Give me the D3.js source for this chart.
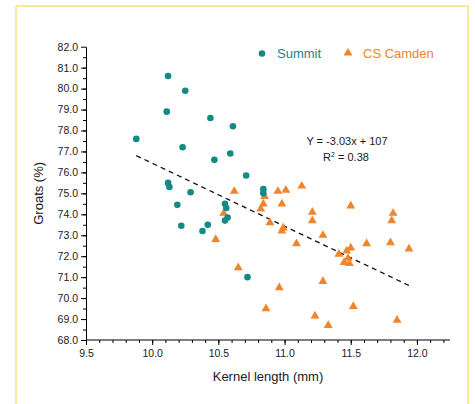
<!DOCTYPE html>
<html>
<head>
<meta charset="utf-8">
<script src="https://cdn.jsdelivr.net/npm/d3@7"></script>
<style>
  html, body { margin: 0; padding: 0; background: #fff; }
  svg { display: block; font-family: "Liberation Sans", Arial, sans-serif; }
</style>
</head>
<body>
<svg id="chart" width="475" height="404"></svg>
<script>
// Summit kernel length (mm) / groats (%)
const summitX = [9.88, 10.12, 10.11, 10.25, 10.23, 10.12, 10.13, 10.29, 10.19, 10.22, 10.38, 10.42,
  10.44, 10.47, 10.59, 10.61, 10.71, 10.55, 10.56, 10.55, 10.57, 10.72, 10.84, 10.84];
const summitY = [77.6, 80.6, 78.9, 79.9, 77.2, 75.5, 75.3, 75.05, 74.45, 73.45, 73.2, 73.5,
  78.6, 76.6, 76.9, 78.2, 75.85, 74.5, 74.3, 73.7, 73.85, 71.0, 75.2, 75.0];

// CS Camden
const camdenX = [10.62, 10.95, 11.01, 11.13, 10.85, 10.84, 10.98, 10.82, 10.54, 11.21, 11.21, 10.89,
  10.98, 10.99, 11.29, 10.48, 11.09, 11.41, 10.65, 11.29, 10.96, 10.86, 11.23, 11.33,
  11.50, 11.82, 11.81, 11.62, 11.80, 11.94, 11.50, 11.47, 11.45, 11.49, 11.48, 11.52, 11.85];
const camdenY = [75.1, 75.1, 75.15, 75.35, 74.85, 74.5, 74.5, 74.25, 74.05, 74.1, 73.7, 73.6,
  73.2, 73.35, 73.0, 72.8, 72.6, 72.1, 71.45, 70.8, 70.5, 69.5, 69.15, 68.7,
  74.4, 74.05, 73.7, 72.6, 72.65, 72.35, 72.4, 72.25, 71.7, 71.65, 71.9, 69.6, 68.95];

// regression line end points as drawn
const fitX = [9.88, 11.94];
const fitY = [76.8, 70.6];

const xTicks = [9.5, 10.0, 10.5, 11.0, 11.5, 12.0];
const yTicks = [68, 69, 70, 71, 72, 73, 74, 75, 76, 77, 78, 79, 80, 81, 82];

const teal = "#138a85";
const orange = "#f0852b";

const svg = d3.select("#chart");

// yellow frame
svg.append("rect")
  .attr("x", 16).attr("y", 6)
  .attr("width", 452).attr("height", 420)
  .attr("fill", "none")
  .attr("stroke", "#f6e37e")
  .attr("stroke-width", 1.5);

const x = d3.scaleLinear().domain([9.5, 12.25]).range([86, 450]);
const y = d3.scaleLinear().domain([68, 82]).range([340, 46.7]);

// x axis: major ticks every 0.5, minor every 0.1
const xMinor = d3.range(95, 123).map(d => d / 10);
svg.append("g")
  .attr("transform", "translate(0,340)")
  .call(d3.axisBottom(x).tickValues(xMinor).tickSize(3).tickFormat(""))
  .call(g => g.select(".domain").remove());
const xAxis = svg.append("g")
  .attr("transform", "translate(0,340)")
  .call(d3.axisBottom(x).tickValues(xTicks).tickSize(5).tickSizeOuter(0).tickFormat(d3.format(".1f")));
xAxis.select(".domain").attr("d", `M${x(9.5)},0H${x(12.25)}`);
xAxis.selectAll("text").attr("font-size", 10.5).attr("fill", "#1a1a1a").attr("y", 10);

// y axis: major every 1, minor every 0.5
const yMinor = d3.range(136, 164).map(d => d / 2);
svg.append("g")
  .attr("transform", "translate(86,0)")
  .call(d3.axisLeft(y).tickValues(yMinor).tickSize(3).tickFormat(""))
  .call(g => g.select(".domain").remove());
const yAxis = svg.append("g")
  .attr("transform", "translate(86,0)")
  .call(d3.axisLeft(y).tickValues(yTicks).tickSize(5).tickSizeOuter(0).tickFormat(d3.format(".1f")));
yAxis.selectAll("text").attr("font-size", 10.5).attr("fill", "#1a1a1a").attr("x", -8);

svg.append("text")
  .attr("x", x(10.875)).attr("y", 381)
  .attr("text-anchor", "middle")
  .attr("font-size", 13).attr("fill", "#1a1a1a")
  .text("Kernel length (mm)");

svg.append("text")
  .attr("transform", `translate(43,${y(75)}) rotate(-90)`)
  .attr("text-anchor", "middle")
  .attr("font-size", 13).attr("fill", "#1a1a1a")
  .text("Groats (%)");

// regression line
svg.append("line")
  .attr("x1", x(fitX[0])).attr("y1", y(fitY[0]))
  .attr("x2", x(fitX[1])).attr("y2", y(fitY[1]))
  .attr("stroke", "#111")
  .attr("stroke-width", 1.3)
  .attr("stroke-dasharray", "5,4");

// points
const tri = d3.symbol().type(d3.symbolTriangle).size(34);
svg.append("g").selectAll("path")
  .data(camdenX.map((v, i) => [v, camdenY[i]]))
  .join("path")
  .attr("d", tri)
  .attr("transform", d => `translate(${x(d[0])},${y(d[1])})`)
  .attr("fill", orange);

svg.append("g").selectAll("circle")
  .data(summitX.map((v, i) => [v, summitY[i]]))
  .join("circle")
  .attr("cx", d => x(d[0]))
  .attr("cy", d => y(d[1]))
  .attr("r", 3.3)
  .attr("fill", teal);

// equation
svg.append("text")
  .attr("x", 347).attr("y", 145)
  .attr("text-anchor", "middle")
  .attr("font-size", 11).attr("fill", "#1a1a1a")
  .text("Y = -3.03x + 107");
const r2 = svg.append("text")
  .attr("x", 346).attr("y", 161)
  .attr("text-anchor", "middle")
  .attr("font-size", 11).attr("fill", "#1a1a1a");
r2.append("tspan").text("R");
r2.append("tspan").attr("font-size", 7).attr("dy", -4).text("2");
r2.append("tspan").attr("dy", 4).text(" = 0.38");

// legend
const legend = svg.append("g").attr("font-size", 13);
legend.append("circle").attr("cx", 262).attr("cy", 53.5).attr("r", 3.3).attr("fill", teal);
legend.append("text").attr("x", 277).attr("y", 58).attr("fill", teal).text("Summit");
legend.append("path").attr("d", tri).attr("transform", "translate(348,53)").attr("fill", orange);
legend.append("text").attr("x", 363).attr("y", 58).attr("fill", orange).text("CS Camden");
</script>
</body>
</html>
